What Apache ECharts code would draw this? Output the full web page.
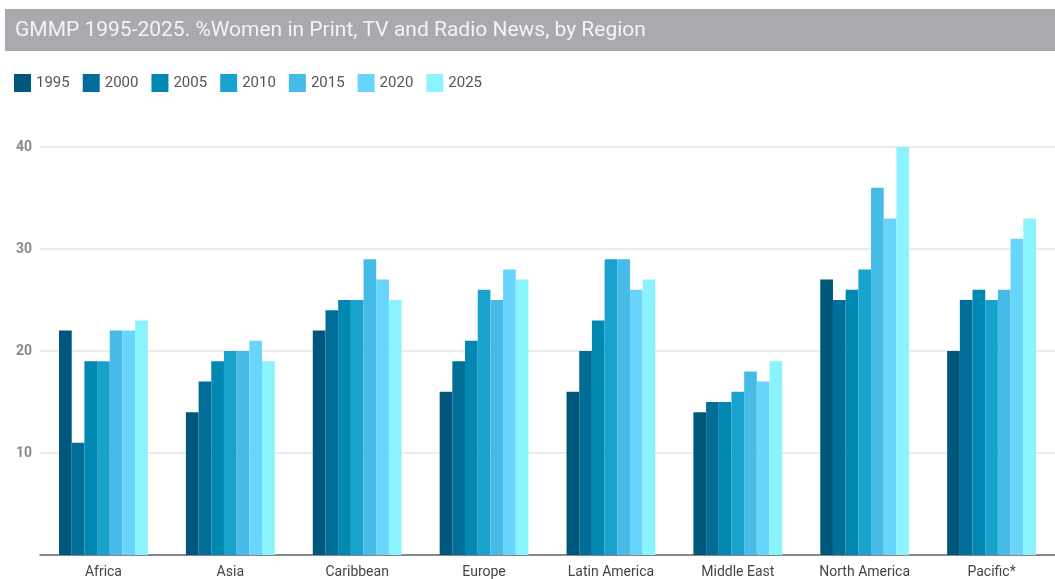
<!DOCTYPE html>
<html>
<head>
<meta charset="utf-8">
<script src="https://cdn.jsdelivr.net/npm/echarts@6/dist/echarts.min.js"></script>
<style>
  html, body { margin: 0; padding: 0; background: #fff; }
  #chart { width: 1055px; height: 579px; }
</style>
</head>
<body>
<div id="chart"></div>
<script>
// regions on the x axis
var regions = ['Africa', 'Asia', 'Caribbean', 'Europe', 'Latin America', 'Middle East', 'North America', 'Pacific*']
// one array per GMMP year (% women in the news)
var years = ['1995', '2000', '2005', '2010', '2015', '2020', '2025']
var v1995 = [22, 14, 22, 16, 16, 14, 27, 20]
var v2000 = [11, 17, 24, 19, 20, 15, 25, 25]
var v2005 = [19, 19, 25, 21, 23, 15, 26, 26]
var v2010 = [19, 20, 25, 26, 29, 16, 28, 25]
var v2015 = [22, 20, 29, 25, 29, 18, 36, 26]
var v2020 = [22, 21, 27, 28, 26, 17, 33, 31]
var v2025 = [23, 19, 25, 27, 27, 19, 40, 33]
var yTicks = [0, 10, 20, 30, 40]

var colors = ['#00577c', '#006e98', '#0088b2', '#1aa2cf', '#46bbe7', '#68d6fc', '#8bf3fe']
var allValues = [v1995, v2000, v2005, v2010, v2015, v2020, v2025]

var chart = echarts.init(document.getElementById('chart'))

var series = years.map(function (y, i) {
  return {
    name: y,
    type: 'bar',
    barGap: 0,
    barCategoryGap: '30%',
    itemStyle: { color: colors[i] },
    data: allValues[i]
  }
})

var option = {
  animation: false,
  // grey header band
  graphic: [
    {
      type: 'rect',
      z: 0,
      shape: { x: 5, y: 9, width: 1060, height: 42 },
      style: { fill: '#a8aaad' }
    }
  ],
  title: {
    text: 'GMMP 1995-2025. %Women in Print, TV and Radio News, by Region',
    left: 15,
    top: 20,
    padding: 0,
    z: 10,
    textStyle: {
      color: '#f4f4f4',
      fontSize: 21,
      fontWeight: 'normal',
      fontFamily: 'Roboto, sans-serif'
    }
  },
  legend: {
    left: 14,
    top: 74,
    padding: 0,
    icon: 'rect',
    itemWidth: 17,
    itemHeight: 18,
    itemGap: 13,
    textStyle: {
      color: '#555',
      fontSize: 15,
      fontFamily: 'Roboto, sans-serif'
    },
    data: years
  },
  grid: {
    left: 40,
    top: 147,
    width: 1022,
    bottom: 23,
    containLabel: false
  },
  xAxis: {
    type: 'category',
    data: regions,
    axisTick: { show: false },
    axisLine: { lineStyle: { color: '#666', width: 1.5 } },
    axisLabel: {
      color: '#444',
      fontSize: 14,
      fontFamily: 'Roboto, sans-serif',
      margin: 10
    }
  },
  yAxis: {
    type: 'value',
    min: yTicks[0],
    max: yTicks[yTicks.length - 1],
    interval: 10,
    axisLine: { show: false },
    axisTick: { show: false },
    axisLabel: {
      showMinLabel: false,
      color: '#8a8a8a',
      fontSize: 14,
      fontWeight: 'bold',
      fontFamily: 'Roboto, sans-serif',
      margin: 8
    },
    splitLine: { lineStyle: { color: '#e6e6e6', width: 1.5 } }
  },
  series: series
}

chart.setOption(option)
</script>
</body>
</html>
